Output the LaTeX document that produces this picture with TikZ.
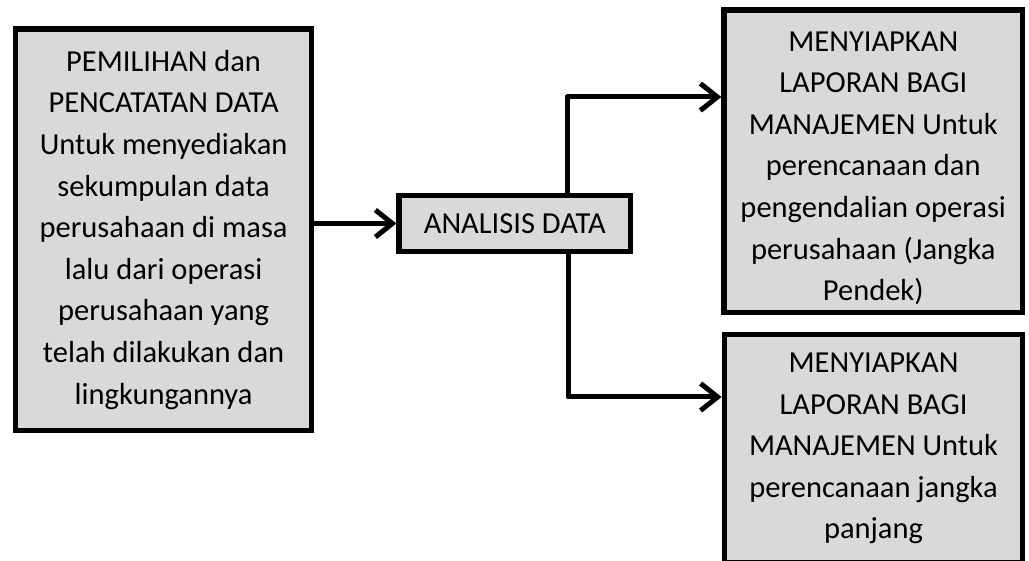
\documentclass[tikz,border=0pt]{standalone}
\usepackage{fontspec}
\setmainfont{Carlito}
\usetikzlibrary{arrows.meta}
\definecolor{boxgray}{HTML}{D9D9D9}
\begin{document}
\begin{tikzpicture}[x=1pt,y=-1pt,
  txt/.style={align=center, inner sep=0pt, font=\fontsize{30.5}{41.6}\selectfont},
  box/.style={draw=black, line width=5.2pt, fill=boxgray, txt},
  conn/.style={line width=5pt, line join=round, -{Straight Barb[length=17pt,width=27pt]}},
]
\useasboundingbox (0,0) rectangle (1029,561);
\node[box, minimum width=296pt, minimum height=401.5pt] (sel) at (163.6,229.75)
  {PEMILIHAN dan\\PENCATATAN DATA\\Untuk menyediakan\\sekumpulan data\\perusahaan di masa\\lalu dari operasi\\perusahaan yang\\telah dilakukan dan\\lingkungannya};
\node[box, minimum width=231.5pt, minimum height=56pt] (ana) at (514.75,223.5) {ANALISIS DATA};
\node[box, minimum width=298.5pt, minimum height=302.5pt] (rep1) at (873.25,161.25) {};
\node[txt, yshift=-7pt] (rep1t) at (rep1.center)
  {MENYIAPKAN\\LAPORAN BAGI\\MANAJEMEN Untuk\\perencanaan dan\\pengendalian operasi\\perusahaan (Jangka\\Pendek)};
\begin{scope}
\clip (0,0) rectangle (1029,561);
\node[box, minimum width=298.5pt, minimum height=228pt] (rep2) at (873.5,448.5)
  {MENYIAPKAN\\LAPORAN BAGI\\MANAJEMEN Untuk\\perencanaan jangka\\panjang};
\end{scope}
\coordinate (up) at (567,97);
\coordinate (dn) at (568,397);
\draw[conn] (sel.east |- ana.west) -- (ana.west);
\draw[conn] (ana.north -| up) |- (rep1.west |- up);
\draw[conn] (ana.south -| dn) |- (rep2.west |- dn);
\end{tikzpicture}
\end{document}
